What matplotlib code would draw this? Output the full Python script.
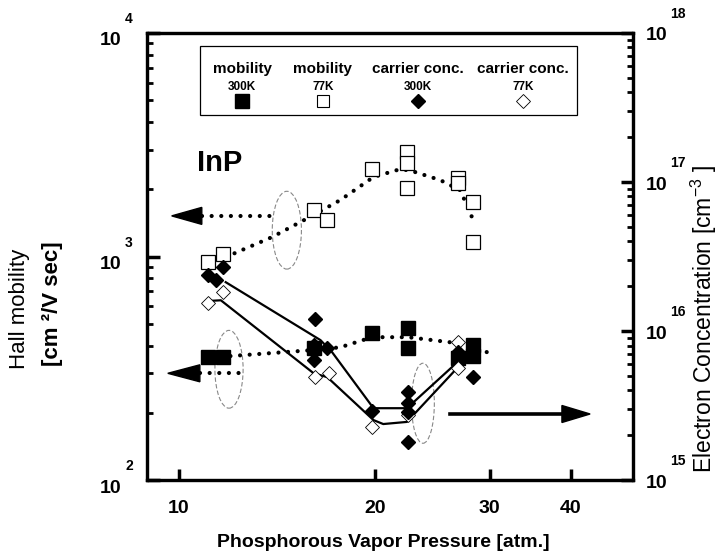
import numpy as np
import matplotlib
matplotlib.use("Agg")
import matplotlib.pyplot as plt
from matplotlib.patches import Ellipse, Rectangle, Polygon
from matplotlib.ticker import FixedLocator, LogLocator, NullFormatter, NullLocator
from matplotlib.transforms import blended_transform_factory, offset_copy

plt.rcParams['font.family'] = ['Liberation Sans', 'DejaVu Sans']
plt.rcParams['mathtext.fontset'] = 'custom'
plt.rcParams['mathtext.rm'] = 'Liberation Sans'
plt.rcParams['mathtext.bf'] = 'Liberation Sans:bold'

# --- data ---
# Hall mobility, 300K (filled squares)
p_mob300 = [11.1, 11.7, 16.1, 19.8, 22.5, 22.5, 26.8, 28.3, 28.3]
mob300 = [355, 355, 390, 455, 479, 390, 352, 402, 359]
# Hall mobility, 77K (open squares)
p_mob77 = [11.1, 11.7, 16.1, 16.9, 19.8, 22.4, 22.4, 22.4, 26.8, 26.8, 28.3, 28.3]
mob77 = [945, 1026, 1614, 1456, 2458, 2937, 2620, 2025, 2245, 2133, 1753, 1161]
# carrier conc. 300K (filled diamonds)
p_n300 = [11.1, 11.7, 11.4, 16.2, 16.1, 16.1, 16.1, 16.9, 19.8, 22.5, 22.5, 22.5, 22.5, 26.8, 28.3]
n300 = [2.38e16, 2.69e16, 2.2e16, 1.21e16, 8.05e15, 7.45e15, 6.4e15, 7.7e15,
        2.90e15, 3.90e15, 3.29e15, 2.86e15, 1.80e15, 7.22e15, 4.91e15]
# carrier conc. 77K (open diamonds)
p_n77 = [11.1, 11.7, 16.2, 17.0, 19.8, 22.5, 26.8, 26.8]
n77 = [1.54e16, 1.83e16, 4.91e15, 5.22e15, 2.27e15, 2.73e15, 8.44e15, 5.65e15]

# hand-drawn guide curves
p_fit_mob77 = [11.8, 13.9, 16.1, 17.7, 19.9, 21.9, 22.8, 25.2, 27.0, 27.8, 28.3]
fit_mob77 = [995, 1222, 1534, 1790, 2269, 2463, 2413, 2198, 1985, 1665, 1456]
p_fit_mob300 = [12.0, 16.1, 17.7, 19.8, 22.5, 26.8, 29.7]
fit_mob300 = [359, 382, 393, 436, 436, 410, 374]
p_fit_n300 = [11.8, 16.5, 17.2, 19.9, 22.4, 27.0, 28.3]
fit_n300 = [2.13e16, 8.7e15, 7.2e15, 3.04e15, 3.04e15, 6.4e15, 7.2e15]
p_fit_n77 = [11.0, 11.6, 16.1, 16.9, 19.9, 20.6, 22.4, 27.0]
fit_n77 = [1.59e16, 1.61e16, 5.22e15, 4.91e15, 2.53e15, 2.38e15, 2.46e15, 5.9e15]

x_ticks = [10, 20, 30, 40]
left_exp = [2, 3, 4]
right_exp = [15, 16, 17, 18]
legend_titles = ["mobility", "mobility", "carrier conc.", "carrier conc."]
legend_temps = ["300K", "77K", "300K", "77K"]

fig = plt.figure(figsize=(7.2, 5.59), dpi=100)
ax = fig.add_axes([0.204, 0.141, 0.675, 0.8])
ax2 = ax.twinx()

dots = dict(color="black", linestyle=(0, (0.01, 2.3)), linewidth=3.0, dash_capstyle="round")

ax.set_xscale("log")
ax.set_yscale("log")
ax.set_xlim(8.93, 49.8)
ax.set_ylim(100, 10000)
ax2.set_yscale("log")
ax2.set_ylim(1e15, 1e18)

ax.plot(p_fit_mob77, fit_mob77, **dots)
ax.plot(p_fit_mob300, fit_mob300, **dots)
ax2.plot(p_fit_n300, fit_n300, color="black", lw=1.6)
ax2.plot(p_fit_n77, fit_n77, color="black", lw=1.6)

ax.plot(p_mob77, mob77, "s", ms=9.5, mfc="white", mec="black", mew=0.9, zorder=4)
ax.plot(p_mob300, mob300, "s", ms=10, mfc="black", mec="black", zorder=4)
ax2.plot(p_n77, n77, "D", ms=7.5, mfc="white", mec="black", mew=0.6, zorder=4)
ax2.plot(p_n300, n300, "D", ms=7.5, mfc="black", mec="black", zorder=5)

# axes styling
for a in (ax, ax2):
    for s in a.spines.values():
        s.set_linewidth(2.3)
ax.xaxis.set_major_locator(FixedLocator(x_ticks))
ax.xaxis.set_minor_locator(NullLocator())
ax.set_xticklabels([str(t) for t in x_ticks], fontsize=14, fontweight="bold")
ax.tick_params(axis="x", direction="in", length=8, width=2.5, pad=14)

ax.yaxis.set_major_locator(FixedLocator([10.0 ** e for e in left_exp]))
ax.yaxis.set_minor_locator(LogLocator(base=10, subs=np.arange(2, 10)))
ax.yaxis.set_minor_formatter(NullFormatter())
ax.set_yticklabels([])
ax.tick_params(axis="y", which="major", direction="in", length=9, width=2.5)
ax.tick_params(axis="y", which="minor", direction="in", length=4, width=2)

ax2.yaxis.set_major_locator(FixedLocator([10.0 ** e for e in right_exp]))
ax2.yaxis.set_minor_locator(LogLocator(base=10, subs=np.arange(2, 10)))
ax2.yaxis.set_minor_formatter(NullFormatter())
ax2.set_yticklabels([])
ax2.tick_params(axis="y", which="major", direction="in", length=9, width=2.5)
ax2.tick_params(axis="y", which="minor", direction="in", length=4, width=2)

# "10" with a detached exponent, as in the scan
tl = blended_transform_factory(ax.transAxes, ax.transData)
tr = blended_transform_factory(ax2.transAxes, ax2.transData)
for e in left_exp:
    ax.text(0, 10.0 ** e, "10", transform=offset_copy(tl, fig=fig, x=-36, y=-8, units="dots"),
            fontsize=14, fontweight="bold", ha="center", va="center", clip_on=False)
    ax.text(0, 10.0 ** e, str(e), transform=offset_copy(tl, fig=fig, x=-18, y=14, units="dots"),
            fontsize=10, fontweight="bold", ha="center", va="center", clip_on=False)
for e in right_exp:
    ax2.text(1, 10.0 ** e, "10", transform=offset_copy(tr, fig=fig, x=24, y=-3, units="dots"),
             fontsize=14, fontweight="bold", ha="center", va="center", clip_on=False)
    ax2.text(1, 10.0 ** e, str(e), transform=offset_copy(tr, fig=fig, x=45, y=19, units="dots"),
             fontsize=10, fontweight="bold", ha="center", va="center", clip_on=False)

fig.text(0.532, 0.029, "Phosphorous Vapor Pressure [atm.]", fontsize=14, fontweight="bold",
         ha="center", va="center")
fig.text(0.027, 0.447, "Hall mobility", rotation=90, fontsize=16, ha="center", va="center")
fig.text(0.073, 0.456, "[cm ²/V sec]", rotation=90, fontsize=16, fontweight="bold",
         ha="center", va="center")
fig.text(0.978, 0.43, r"Electron Concentration [cm$^{-3}$ ]", rotation=90, fontsize=16.5,
         ha="center", va="center")

# InP label
ax.text(0.150, 0.709, "InP", transform=ax.transAxes, fontsize=21, fontweight="bold",
        ha="center", va="center")

# legend box drawn by hand (titles above markers)
ax.add_patch(Rectangle((0.109, 0.817), 0.776, 0.154, transform=ax.transAxes,
                       fill=False, lw=0.9, ec="black", zorder=6))
leg_x = [0.196, 0.362, 0.558, 0.774]
leg_style = [dict(marker="s", ms=10, mfc="black", mec="black"),
             dict(marker="s", ms=9, mfc="white", mec="black", mew=0.8),
             dict(marker="D", ms=7, mfc="black", mec="black"),
             dict(marker="D", ms=7, mfc="white", mec="black", mew=0.6)]
for lx, t1, t2, st in zip(leg_x, legend_titles, legend_temps, leg_style):
    ax.text(lx, 0.919, t1, transform=ax.transAxes, fontsize=11, fontweight="bold",
            ha="center", va="center")
    ax.text(lx, 0.879, t2, transform=ax.transAxes, fontsize=8.5, fontweight="bold",
            ha="center", va="center")
    ax.plot([lx], [0.848], transform=ax.transAxes, linestyle="none", zorder=7, **st)

# arrows pointing to the axes + dashed ellipses around the curves
def arrow(ax, x0, x1, y, head, dotted, left=True):
    tip = x0 if left else x1
    base = tip + head if left else tip - head
    if dotted:
        ax.plot([base, x1 if left else x0], [y, y], transform=ax.transAxes, **dots)
    else:
        ax.plot([base, x0], [y, y], transform=ax.transAxes, color="black", lw=2.6)
    ax.add_patch(Polygon([[tip, y], [base, y + 0.019], [base, y - 0.019]], closed=True,
                         transform=ax.transAxes, color="black", zorder=6))

arrow(ax, 0.051, 0.253, 0.591, 0.062, True)
arrow(ax, 0.043, 0.206, 0.239, 0.066, True)
arrow(ax, 0.623, 0.912, 0.148, 0.058, False, left=False)

for cx, cy, w, h in [(0.288, 0.559, 0.060, 0.174), (0.169, 0.248, 0.058, 0.174),
                     (0.568, 0.172, 0.047, 0.179)]:
    ax.add_patch(Ellipse((cx, cy), w, h, transform=ax.transAxes, fill=False,
                         ec="#888888", lw=0.8, ls=(0, (4, 2))))

fig.savefig("out.png", dpi=100)
